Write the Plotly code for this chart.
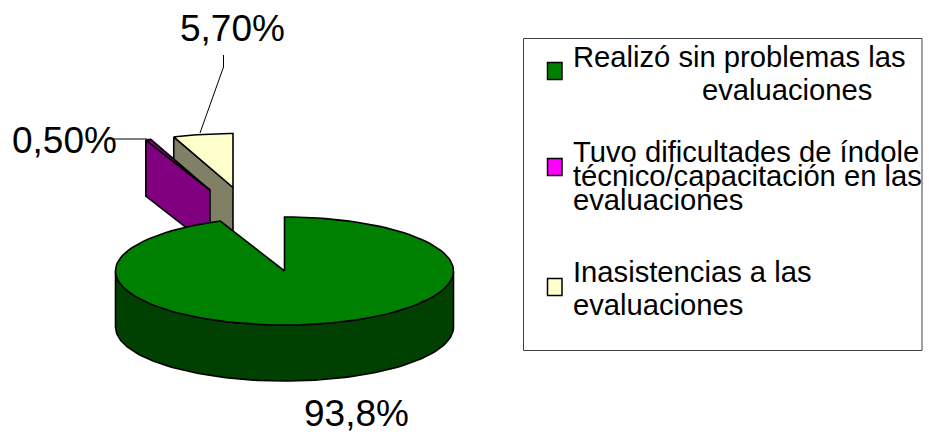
import math
import plotly.graph_objects as go

categories = ["Realizó sin problemas las evaluaciones",
              "Tuvo dificultades de índole técnico/capacitación en las evaluaciones",
              "Inasistencias a las evaluaciones"]
values = [93.8, 0.5, 5.7]
value_labels = ["93,8%", "0,50%", "5,70%"]
legend_colors = ["#008000", "#FF00FF", "#FFFFCC"]
top_colors = ["#008000", "#800080", "#FFFFCC"]
side_colors = ["#004000", "#800080", "#808066"]

W, H = 929, 432
CX, CY = 284.5, 271
RX, RY = 169, 54
DEPTH = 56
APEX = [(CX, CY), (210, 190), (233, 187.5)]  # exploded slice apexes
FONT = "Liberation Sans, Arial, sans-serif"
LW = 1.6

total = sum(values)
starts, ends = [], []
acc = 0.0
for v in values:
    starts.append(acc / total * 360)
    acc += v
    ends.append(acc / total * 360)


def arc(ax, ay, a0, a1, n=120, dy=0.0):
    xs, ys = [], []
    for i in range(n + 1):
        t = math.radians(a0 + (a1 - a0) * i / n)
        xs.append(ax + RX * math.sin(t))
        ys.append(ay - RY * math.cos(t) + dy)
    return xs, ys


def poly(xs, ys, fill, lw=LW):
    return go.Scatter(x=xs + xs[:1], y=ys + ys[:1], mode="lines", fill="toself",
                      fillcolor=fill, line=dict(color="black", width=lw),
                      hoverinfo="skip", showlegend=False)


def side_face(i, angle):
    ax, ay = APEX[i]
    ex, ey = arc(ax, ay, angle, angle, n=1)
    ex, ey = ex[0], ey[0]
    return poly([ex, ax, ax, ex], [ey, ay, ay + DEPTH, ey + DEPTH], side_colors[i])


def top_face(i):
    ax, ay = APEX[i]
    xs, ys = arc(ax, ay, starts[i], ends[i])
    return poly([ax] + xs, [ay] + ys, top_colors[i])


fig = go.Figure()
# cream slice
fig.add_trace(side_face(2, starts[2]))
fig.add_trace(top_face(2))
# purple slice
fig.add_trace(side_face(1, starts[1]))
fig.add_trace(top_face(1))
# green slice: front wall, then top
tx, ty = arc(CX, CY, 90, 270)
bx, by = arc(CX, CY, 270, 90, dy=DEPTH)
fig.add_trace(poly(tx + bx, ty + by, side_colors[0]))
fig.add_trace(top_face(0))

# leader lines
fig.add_trace(go.Scatter(x=[107, 147], y=[139, 139], mode="lines",
                         line=dict(color="black", width=1), hoverinfo="skip", showlegend=False))
fig.add_trace(go.Scatter(x=[223.5, 223.5, 200], y=[55, 67, 133], mode="lines",
                         line=dict(color="black", width=1), hoverinfo="skip", showlegend=False))

shapes = [dict(type="rect", x0=523.5, x1=922, y0=38.5, y1=350.5,
               line=dict(color="#404040", width=1), fillcolor="white", layer="below")]
swatches = [(547.5, 562, 62.5, 79.5), (547.5, 562, 158.5, 175.5), (547.5, 562, 278.5, 295.5)]
for (x0, x1, y0, y1), c in zip(swatches, legend_colors):
    shapes.append(dict(type="rect", x0=x0, x1=x1, y0=y0, y1=y1,
                       line=dict(color="black", width=1.5), fillcolor=c, layer="above"))

legend_lines = [
    ("Realizó sin problemas las", 572, 57),
    ("evaluaciones", 701, 90),
    ("Tuvo dificultades de índole", 572, 152),
    ("técnico/capacitación en las", 572, 176),
    ("evaluaciones", 572, 200),
    ("Inasistencias a las", 572, 272),
    ("evaluaciones", 572, 305),
]
annotations = [dict(x=x, y=y, text=t, xref="x", yref="y", xanchor="left", yanchor="middle",
                    showarrow=False, borderpad=0, font=dict(family=FONT, size=29.2, color="black"))
               for t, x, y in legend_lines]
label_pos = [(303, 413.5), (10.5, 140), (179, 28.5)]
for t, (x, y) in zip(value_labels, label_pos):
    annotations.append(dict(x=x, y=y, text=t, xref="x", yref="y", xanchor="left", yanchor="middle",
                            showarrow=False, borderpad=0, font=dict(family=FONT, size=37, color="black")))

fig.update_layout(
    width=W, height=H, margin=dict(l=0, r=0, t=0, b=0),
    paper_bgcolor="white", plot_bgcolor="white", showlegend=False,
    xaxis=dict(range=[0, W], visible=False, fixedrange=True),
    yaxis=dict(range=[H, 0], visible=False, fixedrange=True),
    shapes=shapes, annotations=annotations,
)
fig.write_html("out.html", config={"displayModeBar": False},
               post_script="document.body.style.margin='0';")
